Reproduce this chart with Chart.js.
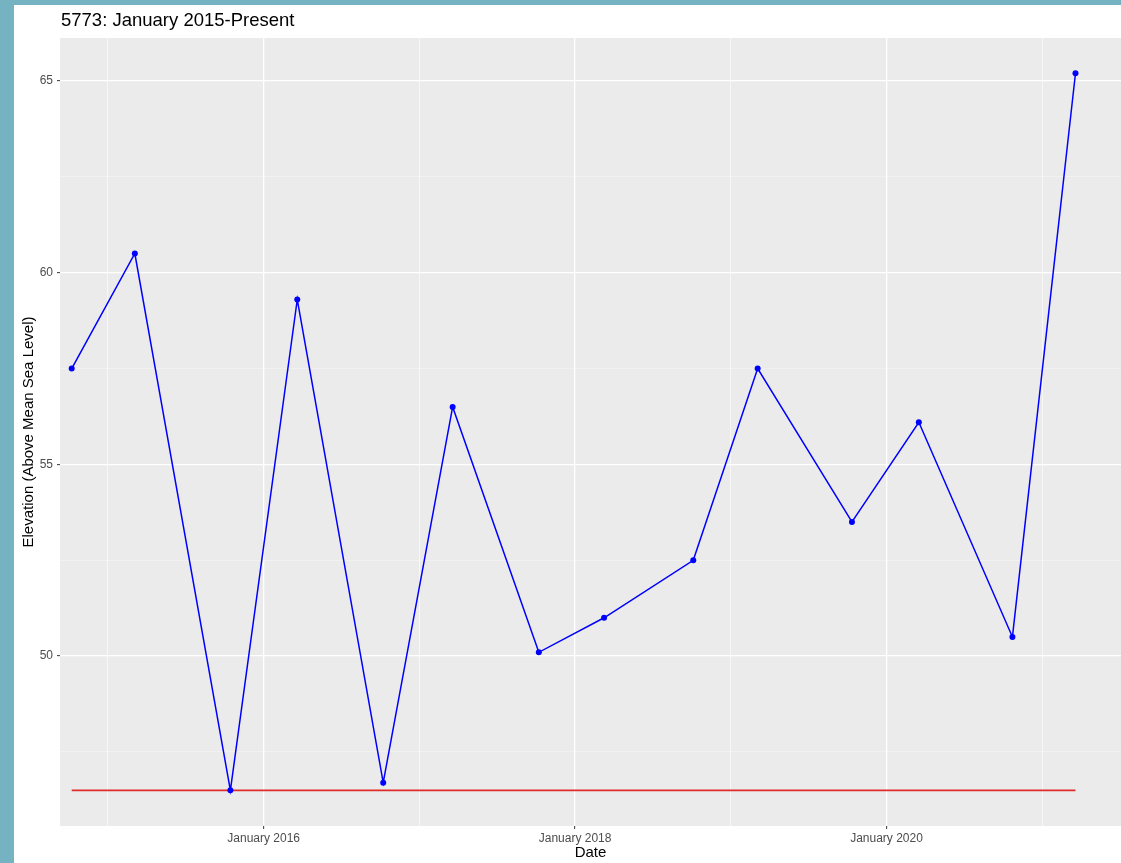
<!DOCTYPE html>
<html>
<head>
<meta charset="utf-8">
<script src="https://cdn.jsdelivr.net/npm/chart.js@4.4.0/dist/chart.umd.min.js"></script>
<style>
  html, body { margin: 0; padding: 0; width: 1121px; height: 863px; overflow: hidden; background: #76B3C2; }
  #wrap { position: absolute; left: 14px; top: 5px; width: 1107px; height: 858px; background: #FFFFFF; }
  canvas { display: block; }
</style>
</head>
<body>
<div id="wrap"><canvas id="c"></canvas></div>
<script>
// ---- data ----
const chartTitle = "5773: January 2015-Present";
const xTitle = "Date";
const yTitle = "Elevation (Above Mean Sea Level)";
const sampleDates = ["2014-10-08","2015-03-05","2015-10-15","2016-03-20","2016-10-08","2017-03-20","2017-10-08",
                     "2018-03-10","2018-10-05","2019-03-05","2019-10-12","2020-03-17","2020-10-23","2021-03-20"];
const elevations  = [57.5, 60.5, 46.5, 59.3, 46.7, 56.5, 50.1, 51.0, 52.5, 57.5, 53.5, 56.1, 50.5, 65.2];
const referenceLevel = 46.5;
const xTickYears = [2015, 2016, 2017, 2018, 2019, 2020, 2021];   // odd years = minor grid
const yTickValues = [47.5, 50, 52.5, 55, 57.5, 60, 62.5, 65];     // half steps = minor grid

function toYear(s) {
  const [y, m, d] = s.split("-").map(Number);
  const start = Date.UTC(y, 0, 1), end = Date.UTC(y + 1, 0, 1);
  return y + (Date.UTC(y, m - 1, d) - start) / (end - start);
}
const xs = sampleDates.map(toYear);
const mainPts = xs.map((x, i) => ({ x: x, y: elevations[i] }));
const refPts = [{ x: xs[0], y: referenceLevel }, { x: xs[xs.length - 1], y: referenceLevel }];

const isMajorX = v => v % 2 === 0;
const isMajorY = v => v % 5 === 0;

const panelBg = {
  id: "panelBg",
  beforeDraw(chart) {
    const a = chart.chartArea, ctx = chart.ctx;
    ctx.save();
    ctx.fillStyle = "#EBEBEB";
    ctx.fillRect(a.left, a.top, a.right - a.left, a.bottom - a.top);
    ctx.restore();
  }
};
const titlePlugin = {
  id: "plotTitle",
  afterDraw(chart) {
    const ctx = chart.ctx;
    ctx.save();
    ctx.font = "18.5px 'Liberation Sans', Arial, sans-serif";
    ctx.fillStyle = "#000000";
    ctx.textBaseline = "alphabetic";
    ctx.textAlign = "left";
    ctx.fillText(chartTitle, chart.chartArea.left + 1, 21);
    ctx.restore();
  }
};

new Chart(document.getElementById("c"), {
  type: "line",
  data: {
    datasets: [
      { data: mainPts, borderColor: "#0000FF", backgroundColor: "#0000FF", borderWidth: 1.5,
        pointRadius: 3, pointHoverRadius: 3, pointBorderWidth: 0, tension: 0, order: 0 },
      { data: refPts, borderColor: "#E02B2B", borderWidth: 1.6, pointRadius: 0, tension: 0, order: 1 }
    ]
  },
  options: {
    responsive: true,
    maintainAspectRatio: false,
    animation: false,
    events: [],
    layout: { autoPadding: false, padding: { top: 33, left: 0, right: 0, bottom: 0 } },
    plugins: { legend: { display: false }, tooltip: { enabled: false }, title: { display: false } },
    scales: {
      x: {
        type: "linear",
        min: 2014.692, max: 2021.506,
        afterBuildTicks: s => { s.ticks = xTickYears.map(v => ({ value: v })); },
        afterFit: s => { s.height = 37; s.paddingLeft = 0; s.paddingRight = 0; },
        border: { display: false },
        grid: {
          color: "#FFFFFF",
          lineWidth: c => isMajorX(c.tick.value) ? 1.3 : 0.6,
          tickColor: c => isMajorX(c.tick.value) ? "#333333" : "rgba(0,0,0,0)",
          tickLength: 3, tickWidth: 1
        },
        ticks: {
          autoSkip: false, maxRotation: 0, padding: 2, color: "#4D4D4D",
          font: { family: "'Liberation Sans', Arial, sans-serif", size: 12 },
          callback: v => isMajorX(v) ? "January " + v : ""
        },
        title: { display: true, text: xTitle, color: "#000000", padding: { top: 0, bottom: 1 },
                 font: { family: "'Liberation Sans', Arial, sans-serif", size: 15 } }
      },
      y: {
        type: "linear",
        min: 45.57, max: 66.12,
        afterBuildTicks: s => { s.ticks = yTickValues.map(v => ({ value: v })); },
        afterFit: s => { s.width = 46; s.paddingTop = 0; s.paddingBottom = 0; },
        border: { display: false },
        grid: {
          color: c => isMajorY(c.tick.value) ? "#FFFFFF" : "rgba(255,255,255,0.55)",
          lineWidth: c => isMajorY(c.tick.value) ? 1.3 : 0.6,
          tickColor: c => isMajorY(c.tick.value) ? "#333333" : "rgba(0,0,0,0)",
          tickLength: 3, tickWidth: 1
        },
        ticks: {
          autoSkip: false, padding: 4, color: "#4D4D4D",
          font: { family: "'Liberation Sans', Arial, sans-serif", size: 12 },
          callback: v => isMajorY(v) ? String(v) : ""
        },
        title: { display: true, text: yTitle, color: "#000000", padding: { top: 6, bottom: 0 },
                 font: { family: "'Liberation Sans', Arial, sans-serif", size: 15 } }
      }
    }
  },
  plugins: [panelBg, titlePlugin]
});
</script>
</body>
</html>
